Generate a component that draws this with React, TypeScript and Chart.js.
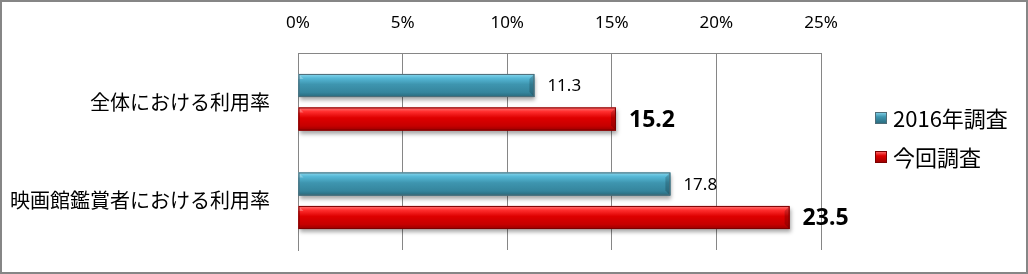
import React, { useEffect, useRef } from "react";
import { Chart, registerables } from "chart.js";

Chart.register(...registerables);

const categories = ["全体における利用率", "映画館鑑賞者における利用率"];
const seriesNames = ["2016年調査", "今回調査"];
const values2016 = [11.3, 17.8];
const valuesNow = [15.2, 23.5];
const tickValues = [0, 5, 10, 15, 20, 25];

const JP = '"Noto Sans CJK JP", "Noto Sans", sans-serif';
const NUM = '"Noto Sans", "Noto Sans CJK JP", sans-serif';

const palettes = [
  {
    base: "#3a8ea7",
    stops: ["#8ad8ee", "#56b8d6", "#3e95af", "#35859d", "#29687a"],
    border: "#4f6d78",
  },
  {
    base: "#d00000",
    stops: ["#ff7a7a", "#ff2e2e", "#de0000", "#c60000", "#980000"],
    border: "#7a0000",
  },
];

const barStyle = {
  id: "barStyle",
  beforeDatasetsDraw(chart: any) {
    const ctx = chart.ctx;
    ctx.save();
    ctx.shadowColor = "rgba(0,0,0,0.35)";
    ctx.shadowBlur = 4;
    ctx.shadowOffsetX = 1;
    ctx.shadowOffsetY = 3;
  },
  afterDatasetsDraw(chart: any) {
    const ctx = chart.ctx;
    ctx.restore();
    chart.data.datasets.forEach((ds: any, di: number) => {
      const meta = chart.getDatasetMeta(di);
      const pal = palettes[di];
      meta.data.forEach((el: any, i: number) => {
        const left = Math.min(el.base, el.x);
        const right = Math.max(el.base, el.x);
        const top = el.y - el.height / 2;
        const h = el.height;
        const g = ctx.createLinearGradient(0, top, 0, top + h);
        const pos = [0, 0.18, 0.45, 0.8, 1];
        pos.forEach((p, k) => g.addColorStop(p, pal.stops[k]));
        ctx.save();
        ctx.fillStyle = g;
        ctx.fillRect(left, top, right - left, h);
        const b = 5;
        ctx.fillStyle = "rgba(0,0,0,0.18)";
        ctx.beginPath();
        ctx.moveTo(right - b, top + b);
        ctx.lineTo(right, top);
        ctx.lineTo(right, top + h);
        ctx.lineTo(right - b, top + h - b);
        ctx.closePath();
        ctx.fill();
        ctx.fillStyle = "rgba(255,255,255,0.25)";
        ctx.beginPath();
        ctx.moveTo(left, top);
        ctx.lineTo(left + b, top + b);
        ctx.lineTo(left, top + b);
        ctx.closePath();
        ctx.fill();
        ctx.strokeStyle = pal.border;
        ctx.lineWidth = 1;
        ctx.strokeRect(left + 0.5, top + 0.5, right - left - 1, h - 1);
        ctx.restore();

        ctx.save();
        ctx.fillStyle = "#000";
        ctx.textBaseline = "middle";
        ctx.textAlign = "left";
        ctx.font = di === 0 ? `17px ${NUM}` : `bold 23px ${NUM}`;
        ctx.fillText(ds.data[i].toFixed(1), right + 13, el.y + 1);
        ctx.restore();
      });
    });
  },
  afterDraw(chart: any) {
    const ctx = chart.ctx;
    const lx = chart.chartArea.right + 54;
    const rows = [116, 155];
    seriesNames.forEach((name, di) => {
      const pal = palettes[di];
      const cy = rows[di];
      ctx.save();
      const g = ctx.createLinearGradient(lx, cy - 6, lx, cy + 6);
      g.addColorStop(0, pal.stops[0]);
      g.addColorStop(0.4, pal.stops[2]);
      g.addColorStop(1, pal.stops[4]);
      ctx.fillStyle = g;
      ctx.fillRect(lx, cy - 6, 12, 12);
      ctx.strokeStyle = pal.border;
      ctx.strokeRect(lx + 0.5, cy - 5.5, 11, 11);
      ctx.fillStyle = "#000";
      ctx.font = `22px ${JP}`;
      ctx.textBaseline = "middle";
      ctx.textAlign = "left";
      ctx.fillText(name, lx + 18, cy + 1);
      ctx.restore();
    });
  },
};

export default function App() {
  const ref = useRef<HTMLCanvasElement | null>(null);
  useEffect(() => {
    document.body.style.margin = "0";
    if (!ref.current) return;
    const chart = new Chart(ref.current, {
      type: "bar",
      data: {
        labels: categories,
        datasets: [
          {
            label: seriesNames[0],
            data: values2016,
            backgroundColor: palettes[0].base,
            categoryPercentage: 0.68,
            barPercentage: 0.69,
          },
          {
            label: seriesNames[1],
            data: valuesNow,
            backgroundColor: palettes[1].base,
            categoryPercentage: 0.68,
            barPercentage: 0.69,
          },
        ],
      },
      options: {
        indexAxis: "y",
        responsive: false,
        animation: false,
        layout: { padding: { left: 0, right: 205, top: 0, bottom: 22 } },
        plugins: { legend: { display: false }, tooltip: { enabled: false } },
        scales: {
          x: {
            position: "top",
            min: 0,
            max: 25,
            afterBuildTicks: (s: any) => {
              s.ticks = tickValues.map((v) => ({ value: v }));
            },
            ticks: {
              callback: (v: any) => v + "%",
              font: { family: NUM, size: 17 },
              color: "#000",
              padding: 20,
            },
            grid: { color: "#868686", drawTicks: false, lineWidth: 1 },
            border: { display: true, color: "#868686" },
            afterFit: (s: any) => {
              s.height = 51;
              s.paddingLeft = 0;
              s.paddingRight = 0;
            },
          },
          y: {
            grid: { display: false },
            border: { display: true, color: "#868686" },
            ticks: {
              font: { family: JP, size: 20 },
              color: "#000",
              padding: 20,
            },
            afterFit: (s: any) => {
              s.width = 296;
              s.paddingTop = 0;
              s.paddingBottom = 0;
            },
          },
        },
      } as any,
      plugins: [barStyle],
    });
    return () => chart.destroy();
  }, []);
  return (
    <div
      style={{
        width: 1028,
        height: 274,
        border: "2px solid #868686",
        boxSizing: "border-box",
        background: "#fff",
      }}
    >
      <canvas ref={ref} width={1024} height={270} style={{ display: "block" }} />
    </div>
  );
}
